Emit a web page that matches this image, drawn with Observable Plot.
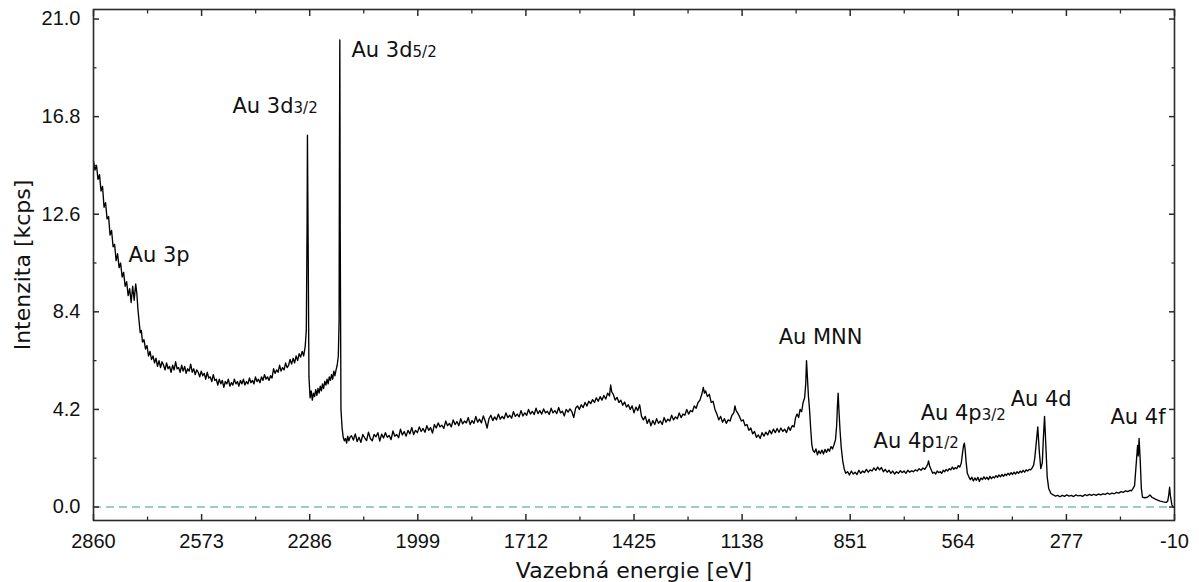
<!DOCTYPE html>
<html>
<head>
<meta charset="utf-8">
<script src="https://cdn.jsdelivr.net/npm/d3@7"></script>
<script src="https://cdn.jsdelivr.net/npm/@observablehq/plot@0.6"></script>
<style>
  html, body { margin: 0; padding: 0; background: #fff; }
  #chart { width: 1199px; height: 582px; }
</style>
</head>
<body>
<div id="chart"></div>
<script>
// Binding energy [eV] and intensity [kcps]
const spectrum = [
  [2860,14.9],[2856,14.5],[2852,14.7],[2848,14.1],[2844,14.3],[2840,13.6],[2836,13.8],[2832,12.9],
  [2828,13.1],[2824,12.4],[2820,12.5],[2816,11.7],[2812,11.9],[2808,11.2],[2804,11.3],[2800,10.6],
  [2796,10.9],[2792,10.3],[2788,10.5],[2784,9.9],[2780,10.1],[2776,9.5],[2772,9.7],[2768,9.1],
  [2764,9.4],[2760,8.8],[2756,9.5],[2752,8.9],[2748,9.6],[2745,9.2],[2742,8.5],[2739,8.0],
  [2736,7.5],[2733,7.6],[2730,7.1],[2726,7.2],[2722,6.8],[2718,6.95],[2714,6.5],[2710,6.7],
  [2706,6.35],[2702,6.5],[2698,6.2],[2694,6.4],[2690,6.05],[2686,6.3],[2682,6.0],[2678,6.25],
  [2674,6.1],[2670,5.9],[2666,6.2],[2662,5.95],[2658,6.05],[2654,5.8],[2650,6.1],[2646,5.9],
  [2642,6.25],[2638,5.95],[2634,6.0],[2630,5.8],[2626,6.1],[2622,5.85],[2618,6.05],[2614,5.75],
  [2610,5.95],[2606,5.85],[2602,6.15],[2598,5.8],[2594,5.95],[2590,5.7],[2586,5.9],[2582,5.8],
  [2578,5.6],[2574,5.85],[2570,5.65],[2566,5.75],[2562,5.5],[2558,5.8],[2554,5.55],[2550,5.6],
  [2546,5.4],[2542,5.7],[2538,5.45],[2534,5.5],[2530,5.25],[2526,5.5],[2522,5.3],[2518,5.45],
  [2514,5.15],[2510,5.4],[2506,5.3],[2502,5.5],[2498,5.2],[2494,5.35],[2490,5.25],[2486,5.5],
  [2482,5.3],[2478,5.4],[2474,5.2],[2470,5.45],[2466,5.3],[2462,5.5],[2458,5.25],[2454,5.4],
  [2450,5.3],[2446,5.55],[2442,5.35],[2438,5.45],[2434,5.3],[2430,5.6],[2426,5.4],[2422,5.5],
  [2418,5.35],[2414,5.6],[2410,5.45],[2406,5.7],[2402,5.5],[2398,5.6],[2394,5.45],[2390,5.65],
  [2386,5.55],[2382,5.95],[2378,5.75],[2374,5.9],[2370,5.8],[2366,6.1],[2362,5.85],[2358,6.0],
  [2354,5.9],[2350,6.2],[2346,6.0],[2342,6.1],[2338,6.35],[2334,6.15],[2330,6.4],[2326,6.2],
  [2322,6.5],[2318,6.3],[2314,6.6],[2310,6.45],[2306,6.7],[2302,6.5],[2298,6.9],[2295,7.6],
  [2293,12.0],[2292,16.0],[2290,11.0],[2288,5.6],[2285,4.7],[2282,5.0],[2279,4.6],[2276,4.9],
  [2273,4.75],[2270,5.05],[2267,4.8],[2264,5.1],[2261,4.9],[2258,5.2],[2255,5.0],[2252,5.3],
  [2249,5.1],[2246,5.4],[2243,5.25],[2240,5.5],[2237,5.3],[2234,5.6],[2231,5.45],[2228,5.7],
  [2225,5.5],[2222,5.85],[2219,5.65],[2216,5.9],[2213,6.1],[2210,6.5],[2208,8.0],[2207,15.0],
  [2206,20.1],[2205,12.0],[2203,4.2],[2200,3.4],[2197,3.0],[2194,2.85],[2191,2.95],[2188,2.75],
  [2185,3.05],[2182,2.85],[2179,3.0],[2175,3.07],[2170,2.88],[2165,3.15],[2160,2.82],[2155,3.0],
  [2150,2.78],[2145,3.12],[2140,2.98],[2135,2.86],[2130,3.22],[2125,2.95],[2120,2.85],[2115,3.12],
  [2110,3.02],[2105,3.2],[2100,2.84],[2095,3.14],[2090,2.97],[2085,3.2],[2080,3.0],[2075,3.08],
  [2070,2.9],[2065,3.27],[2060,3.05],[2055,3.12],[2050,2.98],[2045,3.35],[2040,3.1],[2035,3.25],
  [2030,3.05],[2025,3.3],[2020,3.15],[2015,3.42],[2010,3.12],[2005,3.3],[2000,3.2],[1995,3.45],
  [1990,3.25],[1985,3.38],[1980,3.22],[1975,3.5],[1970,3.3],[1965,3.42],[1960,3.18],[1955,3.55],
  [1950,3.4],[1945,3.62],[1940,3.45],[1935,3.52],[1930,3.38],[1925,3.7],[1920,3.5],[1915,3.6],
  [1910,3.45],[1905,3.75],[1900,3.55],[1895,3.68],[1890,3.5],[1885,3.8],[1880,3.58],[1875,3.7],
  [1870,3.62],[1865,3.85],[1860,3.55],[1855,3.72],[1850,3.6],[1845,3.9],[1840,3.65],[1835,3.78],
  [1830,3.62],[1825,3.92],[1820,3.7],[1815,3.4],[1810,3.8],[1805,3.95],[1800,3.72],[1795,3.88],
  [1790,3.75],[1785,4.0],[1780,3.78],[1775,3.9],[1770,3.8],[1765,4.05],[1760,3.85],[1755,3.95],
  [1750,3.82],[1745,4.1],[1740,3.9],[1735,4.0],[1730,3.88],[1725,4.15],[1720,3.92],[1715,4.05],
  [1710,3.95],[1705,4.2],[1700,4.0],[1695,4.12],[1690,3.98],[1685,4.25],[1680,4.02],[1675,4.15],
  [1670,4.0],[1665,4.22],[1660,4.05],[1655,4.12],[1650,3.98],[1645,4.25],[1640,4.05],[1635,4.15],
  [1630,4.02],[1625,4.28],[1620,4.05],[1615,4.12],[1610,3.92],[1605,4.2],[1600,4.08],[1595,4.22],
  [1590,4.1],[1585,3.85],[1580,4.25],[1575,4.35],[1570,4.2],[1565,4.4],[1560,4.28],[1555,4.5],
  [1550,4.35],[1545,4.55],[1540,4.45],[1535,4.62],[1530,4.5],[1525,4.7],[1520,4.55],[1515,4.75],
  [1510,4.6],[1505,4.8],[1500,4.65],[1495,4.9],[1490,4.78],[1487,5.25],[1484,4.95],[1480,4.85],
  [1475,4.6],[1470,4.72],[1465,4.5],[1460,4.6],[1455,4.38],[1450,4.52],[1445,4.3],[1440,4.4],
  [1435,4.2],[1430,4.35],[1425,4.05],[1420,4.3],[1415,4.15],[1410,4.4],[1405,3.9],[1400,3.75],
  [1395,3.9],[1390,3.6],[1385,3.78],[1380,3.5],[1375,3.72],[1370,3.55],[1365,3.8],[1360,3.6],
  [1355,3.7],[1350,3.55],[1345,3.85],[1340,3.65],[1335,3.78],[1330,3.7],[1325,3.95],[1320,3.75],
  [1315,3.88],[1310,3.8],[1305,4.05],[1300,3.85],[1295,4.0],[1290,3.95],[1285,4.2],[1280,4.0],
  [1275,4.15],[1270,4.1],[1265,4.35],[1260,4.25],[1255,4.5],[1250,4.6],[1245,4.85],[1241,5.15],
  [1238,4.9],[1235,5.0],[1230,4.75],[1225,4.85],[1220,4.5],[1215,4.55],[1210,4.2],[1205,4.0],
  [1200,3.75],[1195,3.9],[1190,3.65],[1185,3.8],[1180,3.6],[1175,3.75],[1170,3.7],[1165,3.95],
  [1160,4.05],[1157,4.35],[1154,4.15],[1150,4.05],[1145,3.9],[1140,3.7],[1135,3.75],[1130,3.5],
  [1125,3.55],[1120,3.3],[1115,3.4],[1110,3.15],[1105,3.25],[1100,3.0],[1095,3.1],[1090,2.95],
  [1085,3.2],[1080,3.05],[1075,3.22],[1070,3.1],[1065,3.3],[1060,3.15],[1055,3.35],[1050,3.2],
  [1045,3.38],[1040,3.22],[1035,3.4],[1030,3.25],[1025,3.35],[1020,3.2],[1015,3.45],[1010,3.3],
  [1005,3.5],[1000,3.45],[996,3.85],[992,4.0],[988,3.85],[984,4.2],[980,4.1],[976,4.5],
  [972,4.7],[969,5.3],[967,6.3],[965,5.7],[962,4.8],[959,4.2],[956,3.4],[953,2.7],
  [950,2.45],[946,2.35],[942,2.5],[938,2.25],[934,2.42],[930,2.3],[926,2.45],[922,2.28],
  [918,2.48],[914,2.35],[910,2.5],[906,2.4],[902,2.6],[898,2.5],[894,2.68],[890,2.9],
  [887,3.5],[885,4.3],[883,4.9],[881,4.2],[878,3.3],[875,2.6],[871,2.0],[867,1.65],
  [863,1.45],[858,1.52],[853,1.38],[848,1.55],[843,1.42],[838,1.5],[833,1.4],[828,1.58],
  [823,1.45],[818,1.55],[813,1.48],[808,1.62],[803,1.5],[798,1.6],[793,1.55],[788,1.68],
  [783,1.58],[778,1.72],[773,1.6],[768,1.7],[763,1.52],[758,1.62],[753,1.5],[748,1.58],
  [743,1.45],[738,1.55],[733,1.42],[728,1.52],[723,1.45],[718,1.56],[713,1.48],[708,1.55],
  [703,1.45],[698,1.58],[693,1.5],[688,1.56],[683,1.52],[678,1.6],[673,1.55],[668,1.65],
  [663,1.58],[658,1.68],[653,1.62],[648,1.75],[645,1.85],[643,1.98],[640,1.75],[636,1.6],
  [632,1.45],[628,1.5],[624,1.42],[620,1.55],[616,1.48],[612,1.52],[608,1.45],[604,1.58],
  [600,1.52],[596,1.62],[592,1.55],[588,1.65],[584,1.6],[580,1.72],[576,1.62],[572,1.7],
  [568,1.65],[564,1.78],[560,1.72],[556,1.9],[553,2.3],[550,2.65],[548,2.75],[546,2.5],
  [543,1.9],[540,1.45],[536,1.3],[532,1.18],[528,1.28],[524,1.12],[520,1.25],[516,1.15],
  [512,1.28],[508,1.1],[504,1.25],[500,1.18],[496,1.3],[492,1.2],[488,1.28],[484,1.18],
  [480,1.32],[476,1.22],[472,1.3],[468,1.25],[464,1.35],[460,1.28],[456,1.38],[452,1.3],
  [448,1.4],[444,1.32],[440,1.42],[436,1.36],[432,1.45],[428,1.38],[424,1.48],[420,1.4],
  [416,1.5],[412,1.42],[408,1.52],[404,1.45],[400,1.55],[396,1.48],[392,1.58],[388,1.5],
  [384,1.6],[380,1.55],[376,1.62],[372,1.6],[368,1.68],[364,1.8],[361,2.1],[358,2.6],
  [353,3.45],[349,2.4],[345,1.65],[341,1.9],[338,3.0],[335,3.9],[332,2.8],[328,1.3],
  [324,0.8],[318,0.58],[312,0.52],[306,0.47],[300,0.5],[294,0.44],[288,0.5],[282,0.46],
  [276,0.52],[270,0.47],[264,0.5],[258,0.45],[252,0.52],[246,0.48],[240,0.5],[234,0.46],
  [228,0.53],[222,0.49],[216,0.54],[210,0.5],[204,0.55],[198,0.5],[192,0.56],[186,0.52],
  [180,0.57],[174,0.54],[168,0.6],[162,0.55],[156,0.6],[150,0.57],[144,0.63],[138,0.6],
  [132,0.66],[126,0.63],[120,0.7],[114,0.66],[108,0.72],[104,0.7],[100,0.8],[96,0.92],
  [91,2.0],[88,2.65],[86,2.2],[84,2.95],[81,2.0],[78,0.8],[75,0.42],[68,0.4],
  [62,0.42],[55,0.52],[50,0.42],[42,0.35],[35,0.3],[28,0.25],[20,0.22],[12,0.2],
  [8,0.25],[5,0.55],[3,0.85],[1,0.5],[-3,0.1],[-6,0.0],[-10,0.0]
];

// Peak labels: text, subscript, energy and intensity of the label baseline
const peakNames = ["Au 3p", "Au 3d", "Au 3d", "Au MNN", "Au 4p", "Au 4p", "Au 4d", "Au 4f"];
const peakSubs  = ["", "3/2", "5/2", "", "1/2", "3/2", "", ""];
const peakE     = [2767, 2491, 2175, 1041, 789, 664, 425, 160];
const peakI     = [10.52, 16.93, 19.34, 6.99, 2.52, 3.72, 4.32, 3.55];

const xTicks = [2860, 2573, 2286, 1999, 1712, 1425, 1138, 851, 564, 277, -10];
const xMinor = [2716.5, 2429.5, 2142.5, 1855.5, 1568.5, 1281.5, 994.5, 707.5, 420.5, 133.5];
const yTicks = [0, 4.2, 8.4, 12.6, 16.8, 21.0];
const yMinor = [2.1, 6.3, 10.5, 14.7, 18.9];
const xDomain = [2860, -10];
const yDomain = [-0.58, 21.41];

const xTitle = "Vazebná energie [eV]";
const yTitle = "Intenzita [kcps]";

const labels = peakNames.map((n, i) => ({text: peakSubs[i] ? n + "_" + peakSubs[i] : n, E: peakE[i], I: peakI[i]}));

const noText = () => "";
const titleFont = "'DejaVu Sans', Verdana, sans-serif";
const chart = Plot.plot({
  width: 1199,
  height: 582,
  marginLeft: 93,
  marginRight: 25,
  marginTop: 9,
  marginBottom: 62,
  style: {fontFamily: "'Liberation Sans', Arial, sans-serif", fontSize: "20px", color: "#111", background: "#fff"},
  x: {domain: xDomain},
  y: {domain: yDomain},
  marks: [
    Plot.ruleY([0], {stroke: "#3f9a98", strokeWidth: 1.2, strokeDasharray: "8,5"}),
    Plot.line(spectrum, {x: d => d[0], y: d => d[1], stroke: "#000", strokeWidth: 1.35}),
    Plot.frame({stroke: "#2a2a2a", strokeWidth: 1.6}),
    Plot.axisX(xTicks, {anchor: "bottom", tickSize: -6, tickPadding: 19, tickFormat: d => String(d), label: null, stroke: "#2a2a2a", strokeWidth: 1.5, fontSize: 20, fill: "#111"}),
    Plot.axisX(xMinor, {anchor: "bottom", tickSize: -3.5, tickFormat: noText, label: null, stroke: "#2a2a2a", strokeWidth: 1.3}),
    Plot.axisX(xTicks, {anchor: "top", tickSize: -6, tickFormat: noText, label: null, stroke: "#2a2a2a", strokeWidth: 1.5}),
    Plot.axisX(xMinor, {anchor: "top", tickSize: -3.5, tickFormat: noText, label: null, stroke: "#2a2a2a", strokeWidth: 1.3}),
    Plot.axisY(yTicks, {anchor: "left", tickSize: -6, tickPadding: 19, tickFormat: d => d.toFixed(1), label: null, stroke: "#2a2a2a", strokeWidth: 1.5, fontSize: 20, fill: "#111"}),
    Plot.axisY(yMinor, {anchor: "left", tickSize: -3.5, tickFormat: noText, label: null, stroke: "#2a2a2a", strokeWidth: 1.3}),
    Plot.axisY(yTicks, {anchor: "right", tickSize: -6, tickFormat: noText, label: null, stroke: "#2a2a2a", strokeWidth: 1.5}),
    Plot.axisY(yMinor, {anchor: "right", tickSize: -3.5, tickFormat: noText, label: null, stroke: "#2a2a2a", strokeWidth: 1.3}),
    Plot.text(labels, {x: "E", y: "I", text: "text", textAnchor: "start", lineAnchor: "middle", dy: -7, fontSize: 21, fontFamily: titleFont, fill: "#111"}),
    Plot.text([xTitle], {frameAnchor: "bottom", lineAnchor: "middle", textAnchor: "middle", dy: 50, fontSize: 22, fontFamily: titleFont, fill: "#111"}),
    Plot.text([yTitle], {frameAnchor: "left", lineAnchor: "middle", textAnchor: "middle", rotate: -90, dx: -71, fontSize: 22, fontFamily: titleFont, fill: "#111"})
  ]
});

// Render the "_" part of peak labels as smaller subscript-style text on the baseline
chart.querySelectorAll("text").forEach(t => {
  const s = t.textContent;
  if (s.includes("_")) {
    const [main, sub] = s.split("_");
    t.textContent = main;
    const ts = document.createElementNS("http://www.w3.org/2000/svg", "tspan");
    ts.setAttribute("font-size", "15");
    ts.textContent = sub;
    t.appendChild(ts);
  }
});

document.getElementById("chart").appendChild(chart);
</script>
</body>
</html>
